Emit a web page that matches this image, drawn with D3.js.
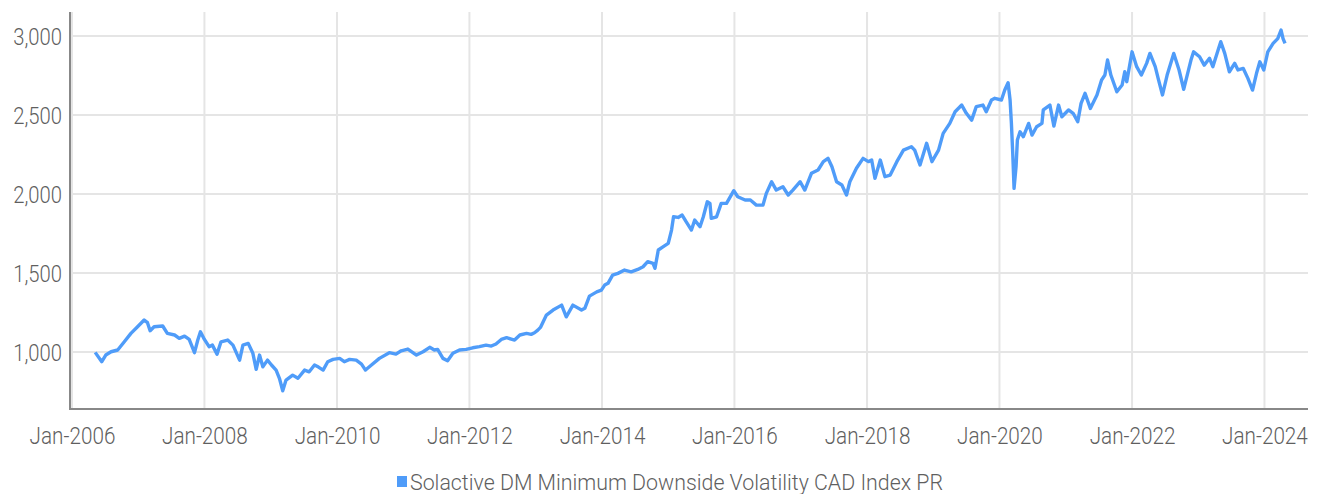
<!DOCTYPE html>
<html>
<head>
<meta charset="utf-8">
<script src="https://cdn.jsdelivr.net/npm/d3@7"></script>
<style>
  body { margin: 0; background: #fff; }
  svg text { font-family: "Roboto", "Noto Sans", sans-serif; font-weight: 300; fill: #5f5f5f; }
</style>
</head>
<body>
<svg id="chart" width="1318" height="494"></svg>
<script>
// decimal years
const years = [
  2006.35, 2006.45, 2006.51, 2006.59, 2006.69, 2006.79, 2006.89, 2006.99, 2007.09, 2007.14,
  2007.18, 2007.24, 2007.37, 2007.44, 2007.55, 2007.62, 2007.70, 2007.77, 2007.85, 2007.90,
  2007.94, 2008.00, 2008.07, 2008.12, 2008.19, 2008.25, 2008.35, 2008.43, 2008.53, 2008.58,
  2008.66, 2008.73, 2008.78, 2008.83, 2008.88, 2008.95, 2009.01, 2009.08, 2009.13, 2009.18,
  2009.23, 2009.33, 2009.41, 2009.51, 2009.58, 2009.66, 2009.72, 2009.79, 2009.86, 2009.94,
  2010.04, 2010.11, 2010.19, 2010.29, 2010.37, 2010.43, 2010.52, 2010.64, 2010.79, 2010.89,
  2010.97, 2011.07, 2011.20, 2011.30, 2011.40, 2011.47, 2011.52, 2011.60, 2011.67, 2011.75,
  2011.85, 2011.95, 2012.05, 2012.15, 2012.25, 2012.33, 2012.40, 2012.48, 2012.56, 2012.63,
  2012.68, 2012.76, 2012.86, 2012.93, 2012.98, 2013.03, 2013.07, 2013.16, 2013.26, 2013.39,
  2013.46, 2013.56, 2013.69, 2013.74, 2013.81, 2013.92, 2013.99, 2014.04, 2014.09, 2014.16,
  2014.24, 2014.34, 2014.44, 2014.54, 2014.62, 2014.69, 2014.77, 2014.80, 2014.85, 2014.92,
  2015.00, 2015.05, 2015.08, 2015.15, 2015.21, 2015.27, 2015.35, 2015.40, 2015.48, 2015.53,
  2015.59, 2015.63, 2015.65, 2015.73, 2015.80, 2015.88, 2015.99, 2016.05, 2016.16, 2016.24,
  2016.33, 2016.43, 2016.48, 2016.56, 2016.63, 2016.73, 2016.81, 2016.88, 2016.99, 2017.06,
  2017.16, 2017.26, 2017.34, 2017.41, 2017.47, 2017.54, 2017.62, 2017.69, 2017.74, 2017.84,
  2017.94, 2018.02, 2018.07, 2018.12, 2018.20, 2018.27, 2018.35, 2018.45, 2018.55, 2018.67,
  2018.72, 2018.80, 2018.90, 2018.98, 2019.08, 2019.15, 2019.25, 2019.33, 2019.43, 2019.50,
  2019.58, 2019.65, 2019.75, 2019.80, 2019.88, 2019.93, 2020.03, 2020.08, 2020.13, 2020.16,
  2020.18, 2020.20, 2020.22, 2020.25, 2020.27, 2020.31, 2020.36, 2020.44, 2020.49, 2020.56,
  2020.64, 2020.66, 2020.76, 2020.82, 2020.89, 2020.94, 2021.04, 2021.11, 2021.18, 2021.23,
  2021.29, 2021.37, 2021.47, 2021.54, 2021.59, 2021.63, 2021.68, 2021.77, 2021.85, 2021.89,
  2021.92, 2022.00, 2022.07, 2022.14, 2022.22, 2022.27, 2022.35, 2022.40, 2022.46, 2022.53,
  2022.63, 2022.71, 2022.78, 2022.84, 2022.89, 2022.93, 2023.02, 2023.09, 2023.17, 2023.22,
  2023.30, 2023.34, 2023.40, 2023.47, 2023.55, 2023.60, 2023.68, 2023.75, 2023.82, 2023.88,
  2023.93, 2023.99, 2024.05, 2024.13, 2024.20, 2024.25, 2024.28, 2024.31
];

// index level (Solactive DM Minimum Downside Volatility CAD Index PR)
const values = [
  998, 939, 981, 1002, 1013, 1065, 1118, 1160, 1203, 1186,
  1135, 1160, 1165, 1118, 1108, 1087, 1101, 1080, 996, 1076,
  1128, 1080, 1034, 1044, 987, 1065, 1076, 1044, 949, 1044,
  1055, 992, 891, 981, 907, 949, 918, 886, 834, 755,
  823, 854, 834, 886, 875, 918, 905, 886, 939, 954,
  960, 939, 954, 949, 924, 886, 918, 960, 996, 987,
  1008, 1019, 981, 1002, 1030, 1013, 1017, 960, 945, 992,
  1013, 1017, 1027, 1034, 1044, 1038, 1051, 1080, 1091, 1082,
  1076, 1108, 1118, 1112, 1122, 1139, 1156, 1234, 1266, 1297,
  1223, 1297, 1266, 1277, 1354, 1381, 1392, 1424, 1435, 1487,
  1498, 1519, 1508, 1523, 1540, 1572, 1561, 1530, 1646, 1666,
  1688, 1772, 1856, 1852, 1867, 1825, 1772, 1835, 1793, 1856,
  1951, 1941, 1846, 1856, 1941, 1941, 2021, 1983, 1962, 1962,
  1930, 1930, 2004, 2078, 2025, 2046, 1994, 2025, 2078, 2025,
  2131, 2152, 2205, 2226, 2173, 2078, 2057, 1994, 2078, 2163,
  2226, 2205, 2215, 2099, 2215, 2110, 2120, 2205, 2278, 2299,
  2278, 2184, 2321, 2205, 2278, 2384, 2447, 2521, 2563, 2511,
  2468, 2553, 2563, 2521, 2595, 2606, 2595, 2658, 2704, 2595,
  2447, 2258, 2036, 2173, 2342, 2394, 2363, 2447, 2373, 2426,
  2447, 2532, 2563, 2430, 2563, 2489, 2532, 2511, 2458, 2574,
  2637, 2542, 2627, 2722, 2753, 2848, 2753, 2647, 2690, 2774,
  2711, 2900, 2806, 2753, 2827, 2890, 2806, 2722, 2627, 2753,
  2890, 2785, 2663, 2764, 2848, 2900, 2869, 2816, 2859, 2806,
  2911, 2964, 2890, 2774, 2827, 2785, 2795, 2732, 2658, 2764,
  2837, 2785, 2900, 2953, 2984, 3038, 2984, 2953
];

const yTicks = [1000, 1500, 2000, 2500, 3000];
const xTickYears = [2006, 2008, 2010, 2012, 2014, 2016, 2018, 2020, 2022, 2024];
const seriesName = "Solactive DM Minimum Downside Volatility CAD Index PR";

const yearToDate = (yv) => {
  const yr = Math.floor(yv);
  const start = Date.UTC(yr, 0, 1), end = Date.UTC(yr + 1, 0, 1);
  return new Date(start + (yv - yr) * (end - start));
};

const data = years.map((yv, i) => ({ date: yearToDate(yv), value: values[i] }));

const svg = d3.select("#chart");
const plotLeft = 72, plotRight = 1308, plotTop = 12, plotBottom = 408;

const x = d3.scaleUtc()
  .domain([new Date(Date.UTC(2006, 0, 1)), new Date(Date.UTC(2024, 7, 28))])
  .range([plotLeft, plotRight]);
const y = d3.scaleLinear().domain([646, 3152]).range([plotBottom, plotTop]);

// squeeze text horizontally, the original uses a narrow typeface
const condense = (sel, k) => sel.each(function () {
  const w = this.getComputedTextLength();
  d3.select(this).attr("textLength", w * k).attr("lengthAdjust", "spacingAndGlyphs");
});

// grid
const grid = svg.append("g");
grid.selectAll("line.h").data(yTicks).join("line")
  .attr("x1", plotLeft).attr("x2", plotRight)
  .attr("y1", d => y(d)).attr("y2", d => y(d))
  .attr("stroke", "#e5e5e5").attr("stroke-width", 2);
grid.selectAll("line.v").data(xTickYears).join("line")
  .attr("x1", d => x(new Date(Date.UTC(d, 0, 1)))).attr("x2", d => x(new Date(Date.UTC(d, 0, 1))))
  .attr("y1", plotTop).attr("y2", plotBottom)
  .attr("stroke", "#e5e5e5").attr("stroke-width", 2);

// axes
const yAxis = svg.append("g").attr("transform", `translate(${plotLeft - 2},0)`)
  .call(d3.axisLeft(y).tickValues(yTicks).tickSize(0).tickPadding(8).tickFormat(d3.format(",")));
yAxis.select(".domain").attr("stroke", "#888").attr("stroke-width", 2)
  .attr("d", `M0,${plotTop}V${plotBottom + 2}`);
yAxis.selectAll("text").attr("font-size", 23).attr("fill", "#5f5f5f").attr("dy", "0.36em");
condense(yAxis.selectAll("text"), 0.88);

const xAxis = svg.append("g").attr("transform", `translate(0,${plotBottom + 1})`)
  .call(d3.axisBottom(x).tickValues(xTickYears.map(d => new Date(Date.UTC(d, 0, 1))))
    .tickSize(0).tickPadding(19).tickFormat(d3.utcFormat("%b-%Y")));
xAxis.select(".domain").attr("stroke", "#888").attr("stroke-width", 2)
  .attr("d", `M${plotLeft - 3},0H${plotRight}`);
xAxis.selectAll("text").attr("font-size", 23).attr("fill", "#5f5f5f");
condense(xAxis.selectAll("text"), 0.9);

// series line
const line = d3.line().x(d => x(d.date)).y(d => y(d.value));
svg.append("path").datum(data)
  .attr("d", line)
  .attr("fill", "none")
  .attr("stroke", "#4f9cf9")
  .attr("stroke-width", 3.4)
  .attr("stroke-linejoin", "round");

// legend
const legend = svg.append("g");
legend.append("rect").attr("x", 397).attr("y", 476).attr("width", 10).attr("height", 11).attr("fill", "#4f9cf9");
legend.append("text").attr("x", 410).attr("y", 490).attr("font-size", 22)
  .attr("textLength", 533).attr("lengthAdjust", "spacingAndGlyphs").text(seriesName);
</script>
</body>
</html>
